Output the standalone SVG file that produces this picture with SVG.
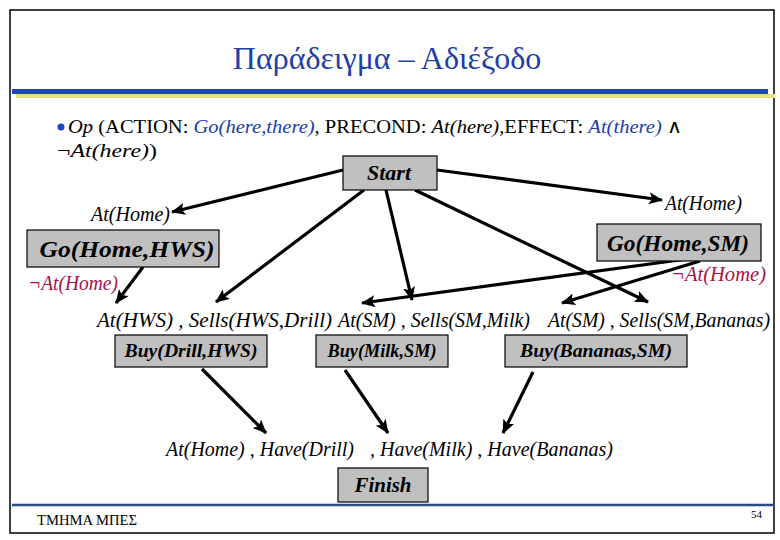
<svg xmlns="http://www.w3.org/2000/svg" width="780" height="540" viewBox="0 0 780 540">
<defs>
<style>
.serif{font-family:"Liberation Serif","Times New Roman",serif;}
.box{fill:#c0c0c0;stroke:#000;stroke-width:1.2;}
.bt{font-family:"Liberation Serif","Times New Roman",serif;font-weight:bold;font-style:italic;fill:#000;text-anchor:middle;}
.lbl{font-family:"Liberation Serif","Times New Roman",serif;font-style:italic;font-size:20px;fill:#000;}
.neg{font-family:"Liberation Serif","Times New Roman",serif;font-style:italic;font-size:20px;fill:#a8104c;}
.conn{stroke:#000;stroke-width:3.2;fill:none;marker-end:url(#ah);}
</style>
<marker id="ah" markerUnits="userSpaceOnUse" markerWidth="14" markerHeight="12" refX="13" refY="6" orient="auto">
<path d="M0,0 L14,6 L0,12 L3,6 Z" fill="#000"/>
</marker>
</defs>
<rect x="0" y="0" width="780" height="540" fill="#fff"/>
<rect x="10" y="10" width="764" height="523" fill="none" stroke="#000" stroke-width="1.5"/>
<text class="serif" x="387" y="69" font-size="32" fill="#1e3ea8" text-anchor="middle">Παράδειγμα – Αδιέξοδο</text>
<rect x="12" y="89" width="756" height="5" fill="#1a44c8"/>
<rect x="16" y="94" width="759" height="4" fill="#e8e27a"/>
<line x1="12" y1="505" x2="775" y2="505" stroke="#2c4a84" stroke-width="2.5"/>
<text class="serif" x="37" y="525" font-size="14" fill="#000" textLength="100" lengthAdjust="spacingAndGlyphs">ΤΜΗΜΑ ΜΠΕΣ</text>
<text class="serif" x="751" y="518" font-size="11" fill="#000">54</text>

<g id="header">
<circle cx="61" cy="127" r="3.5" fill="#1a44c8"/>
<text class="serif" x="68" y="133" font-size="19" fill="#000" textLength="614" lengthAdjust="spacingAndGlyphs"><tspan font-style="italic">Op</tspan> (ACTION: <tspan fill="#2040a8" font-style="italic">Go(here,there)</tspan>, PRECOND: <tspan font-style="italic">At(here)</tspan>,EFFECT: <tspan fill="#2040a8" font-style="italic">At(there)</tspan> ∧</text>
<text class="serif" x="57" y="157" font-size="19" fill="#000" textLength="100" lengthAdjust="spacingAndGlyphs">¬<tspan font-style="italic">At(here)</tspan>)</text>
</g>

<g id="connectors">
<line class="conn" x1="343" y1="170" x2="172" y2="212"/>
<line class="conn" x1="437" y1="170" x2="662" y2="200"/>
<line class="conn" x1="364" y1="190" x2="216" y2="302"/>
<line class="conn" x1="386" y1="190" x2="412" y2="300"/>
<line class="conn" x1="415" y1="190" x2="648" y2="302"/>
<line class="conn" x1="687" y1="259" x2="362" y2="303"/>
<line class="conn" x1="700" y1="261" x2="562" y2="303"/>
<line class="conn" x1="143" y1="267" x2="116" y2="303"/>
<line class="conn" x1="202" y1="369" x2="266" y2="433"/>
<line class="conn" x1="345" y1="370" x2="388" y2="433"/>
<line class="conn" x1="533" y1="372" x2="503" y2="433"/>
</g>

<g id="start">
<rect class="box" x="343" y="156" width="94" height="34"/>
<text class="bt" x="389" y="180" font-size="20" textLength="44" lengthAdjust="spacingAndGlyphs">Start</text>
</g>
<g id="athome-left"><text class="lbl" x="91" y="221" textLength="79" lengthAdjust="spacingAndGlyphs">At(Home)</text></g>
<g id="athome-right"><text class="lbl" x="665" y="210" textLength="77" lengthAdjust="spacingAndGlyphs">At(Home)</text></g>
<g id="go-home-hws">
<rect class="box" x="27" y="230" width="192" height="37"/>
<text class="bt" x="127" y="257" font-size="23" textLength="175" lengthAdjust="spacingAndGlyphs">Go(Home,HWS)</text>
</g>
<g id="go-home-sm">
<rect class="box" x="597" y="224" width="164" height="37"/>
<text class="bt" x="678" y="251" font-size="23" textLength="142" lengthAdjust="spacingAndGlyphs">Go(Home,SM)</text>
</g>
<g id="notathome-left"><text class="neg" x="28" y="290" textLength="90" lengthAdjust="spacingAndGlyphs">¬At(Home)</text></g>
<g id="notathome-right"><text class="neg" x="671" y="281" textLength="95" lengthAdjust="spacingAndGlyphs">¬At(Home)</text></g>
<g id="cond-hws"><text class="lbl" x="97" y="327" textLength="235" lengthAdjust="spacingAndGlyphs">At(HWS) , Sells(HWS,Drill)</text></g>
<g id="cond-milk"><text class="lbl" x="338" y="327" textLength="192" lengthAdjust="spacingAndGlyphs">At(SM) , Sells(SM,Milk)</text></g>
<g id="cond-bananas"><text class="lbl" x="548" y="327" textLength="222" lengthAdjust="spacingAndGlyphs">At(SM) , Sells(SM,Bananas)</text></g>
<g id="buy-drill">
<rect class="box" x="115" y="335" width="152" height="32"/>
<text class="bt" x="191" y="357" font-size="19" textLength="133" lengthAdjust="spacingAndGlyphs">Buy(Drill,HWS)</text>
</g>
<g id="buy-milk">
<rect class="box" x="316" y="335" width="132" height="32"/>
<text class="bt" x="382" y="357" font-size="19" textLength="109" lengthAdjust="spacingAndGlyphs">Buy(Milk,SM)</text>
</g>
<g id="buy-bananas">
<rect class="box" x="505" y="335" width="182" height="32"/>
<text class="bt" x="596" y="357" font-size="19" textLength="152" lengthAdjust="spacingAndGlyphs">Buy(Bananas,SM)</text>
</g>
<g id="goal">
<text class="lbl" x="166" y="456" textLength="188" lengthAdjust="spacingAndGlyphs">At(Home) , Have(Drill)</text>
<text class="lbl" x="370" y="456" textLength="243" lengthAdjust="spacingAndGlyphs">, Have(Milk) , Have(Bananas)</text>
</g>
<g id="finish">
<rect class="box" x="338" y="468" width="90" height="34"/>
<text class="bt" x="383" y="492" font-size="20" textLength="57" lengthAdjust="spacingAndGlyphs">Finish</text>
</g>
</svg>
